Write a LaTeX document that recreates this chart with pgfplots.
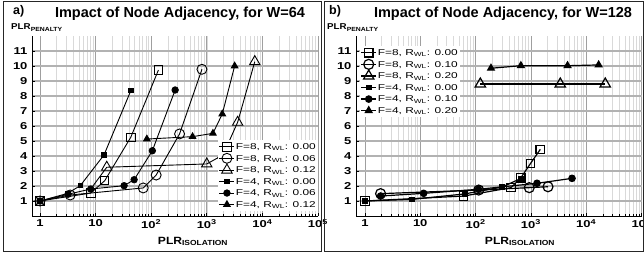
\documentclass[border=0pt]{standalone}
\usepackage{pgfplots}
\pgfplotsset{compat=1.18}
\usepackage{fontspec}
\setmainfont{Liberation Sans}
\newfontfamily\tickfont[FakeStretch=1.3]{Liberation Sans}
\newfontfamily\legfont[FakeStretch=1.4]{Liberation Sans}
\newfontfamily\labfont[FakeStretch=1.15]{Liberation Sans}
\pgfplotsset{
  legend image code/.code={\draw[mark repeat=2,mark phase=2,#1] plot coordinates {(0pt,0pt) (7.5pt,0pt) (15pt,0pt)};},
  osq/.style={mark=square, mark size=4.2pt, mark options={fill=white, solid}},
  ocirc/.style={mark=o, mark size=5pt, mark options={fill=white, solid}},
  otri/.style={mark=triangle, mark size=6pt, mark options={fill=white, solid}},
  fsq/.style={mark=square*, mark size=2.2pt, mark options={solid}},
  fcirc/.style={mark=*, mark size=3.2pt, mark options={solid}},
  ftri/.style={mark=triangle*, mark size=3.8pt, mark options={solid}},
  every axis/.append style={
    xmode=log, scale only axis, height=180pt, anchor=south west,
    xmax=1e5, ymin=0, ymax=12,
    axis lines=left, axis line style={-, black, line width=0.9pt},
    xtick={1,10,100,1000,10000,100000},
    xticklabels={1,10,10\textsuperscript{2},10\textsuperscript{3},10\textsuperscript{4},10\textsuperscript{5}},
    ytick={1,2,3,4,5,6,7,8,9,10,11},
    yticklabels={1,2,3,4,5,6,7,8,9,10,11},
    tick label style={font=\tickfont\bfseries\fontsize{10}{11}\selectfont},
    yticklabel style={xshift=-1pt},
    xmajorgrids, xminorgrids, ymajorgrids,
    major x grid style={gray!75, line width=0.7pt},
    minor x grid style={gray!30, line width=0.5pt},
    major y grid style={gray!60, line width=1.2pt},
    tick align=inside, major tick length=3pt, minor tick length=2pt,
    tick style={black, line width=0.6pt},
    legend cell align=left,
    legend style={draw=none, fill=white, inner sep=1pt,
      font=\legfont\fontsize{8.5}{9}\selectfont,
      nodes={inner sep=1pt, text height=7.5pt, text depth=2pt}},
  },
}
\begin{document}
\begin{tikzpicture}[x=1pt,y=1pt]
\useasboundingbox (0,0) rectangle (644,254);
% ---------------- panel a ----------------
\begin{axis}[width=286pt, at={(32pt,38pt)}, xmin=0.72,
    every axis plot/.append style={black, line width=0.9pt},
    legend style={at={(rel axis cs:1,0.025)}, anchor=south east}]
\addplot[osq] coordinates {(1,1) (8.2,1.53) (14.6,2.35) (43,5.25) (135,9.73)};
\addlegendentry{F=8, R\textsubscript{WL}: 0.00}
\addplot[ocirc] coordinates {(1,1) (3.5,1.4) (72,1.87) (123,2.73) (324,5.47) (819,9.78)};
\addlegendentry{F=8, R\textsubscript{WL}: 0.06}
\addplot[otri] coordinates {(15.9,3.25) (1000,3.47) (1960,4.07) (3590,6.25) (7300,10.29)};
\addlegendentry{F=8, R\textsubscript{WL}: 0.12}
\addplot[fsq] coordinates {(1,1) (3.1,1.5) (5.3,2.02) (14.2,4.07) (43,8.35)};
\addlegendentry{F=4, R\textsubscript{WL}: 0.00}
\addplot[fcirc] coordinates {(1,1) (3.2,1.45) (8.2,1.8) (32.6,2.02) (49.4,2.42) (105,4.35) (270,8.4)};
\addlegendentry{F=4, R\textsubscript{WL}: 0.06}
\addplot[ftri] coordinates {(83.6,5.13) (555,5.29) (1290,5.51) (1900,6.8) (3170,10.0)};
\addlegendentry{F=4, R\textsubscript{WL}: 0.12}
\addplot[no marks, forget plot] coordinates {(8.2,1.8) (15.9,3.25)};
\end{axis}
% ---------------- panel b ----------------
\begin{axis}[width=285.5pt, at={(356pt,38pt)}, xmin=0.69,
    every axis plot/.append style={black, line width=1.2pt},
    legend style={at={(rel axis cs:0.012,0.945)}, anchor=north west}]
\addplot[osq] coordinates {(1,1) (61,1.33) (437,1.89) (660,2.55) (980,3.49) (1480,4.44)};
\addlegendentry{F=8, R\textsubscript{WL}: 0.00}
\addplot[ocirc] coordinates {(1.92,1.49) (114,1.73) (935,1.89) (2040,1.95)};
\addlegendentry{F=8, R\textsubscript{WL}: 0.10}
\addplot[otri] coordinates {(122,8.8) (3400,8.8) (22100,8.8)};
\addlegendentry{F=8, R\textsubscript{WL}: 0.20}
\addplot[fsq] coordinates {(1,1) (7.1,1.11) (63,1.47) (300,1.93) (660,2.5)};
\addlegendentry{F=4, R\textsubscript{WL}: 0.00}
\addplot[fcirc] coordinates {(1.92,1.33) (11.5,1.51) (113,1.78) (1290,2.18) (5540,2.51)};
\addlegendentry{F=4, R\textsubscript{WL}: 0.10}
\addplot[ftri] coordinates {(190,9.85) (660,10.02) (4600,10.02) (16800,10.07)};
\addlegendentry{F=4, R\textsubscript{WL}: 0.20}
\end{axis}
% ---------------- frames and texts ----------------
\draw[black!85, line width=1pt] (3,3) rectangle (321,252);
\draw[black!85, line width=1pt] (324.5,3) rectangle (643,252);
\node[anchor=base west, inner sep=0, font=\bfseries\fontsize{12.5}{14}\selectfont] at (13,239) {a)};
\node[anchor=base, inner sep=0, font=\bfseries\fontsize{14.5}{16}\selectfont] at (180,236) {Impact of Node Adjacency, for W=64};
\node[anchor=base west, inner sep=0, font=\bfseries\fontsize{12.5}{14}\selectfont] at (329,239) {b)};
\node[anchor=base, inner sep=0, font=\bfseries\fontsize{14.5}{16}\selectfont] at (503,236) {Impact of Node Adjacency, for W=128};
\node[anchor=base west, inner sep=0, font=\labfont\bfseries\fontsize{8.5}{10}\selectfont] at (11,224) {PLR\textsubscript{PENALTY}};
\node[anchor=base west, inner sep=0, font=\labfont\bfseries\fontsize{8.5}{10}\selectfont] at (327,224) {PLR\textsubscript{PENALTY}};
\node[anchor=base, inner sep=0, font=\labfont\bfseries\fontsize{10.5}{12}\selectfont] at (193,10) {PLR\textsubscript{ISOLATION}};
\node[anchor=base, inner sep=0, font=\labfont\bfseries\fontsize{10.5}{12}\selectfont] at (520,10) {PLR\textsubscript{ISOLATION}};
\end{tikzpicture}
\end{document}
